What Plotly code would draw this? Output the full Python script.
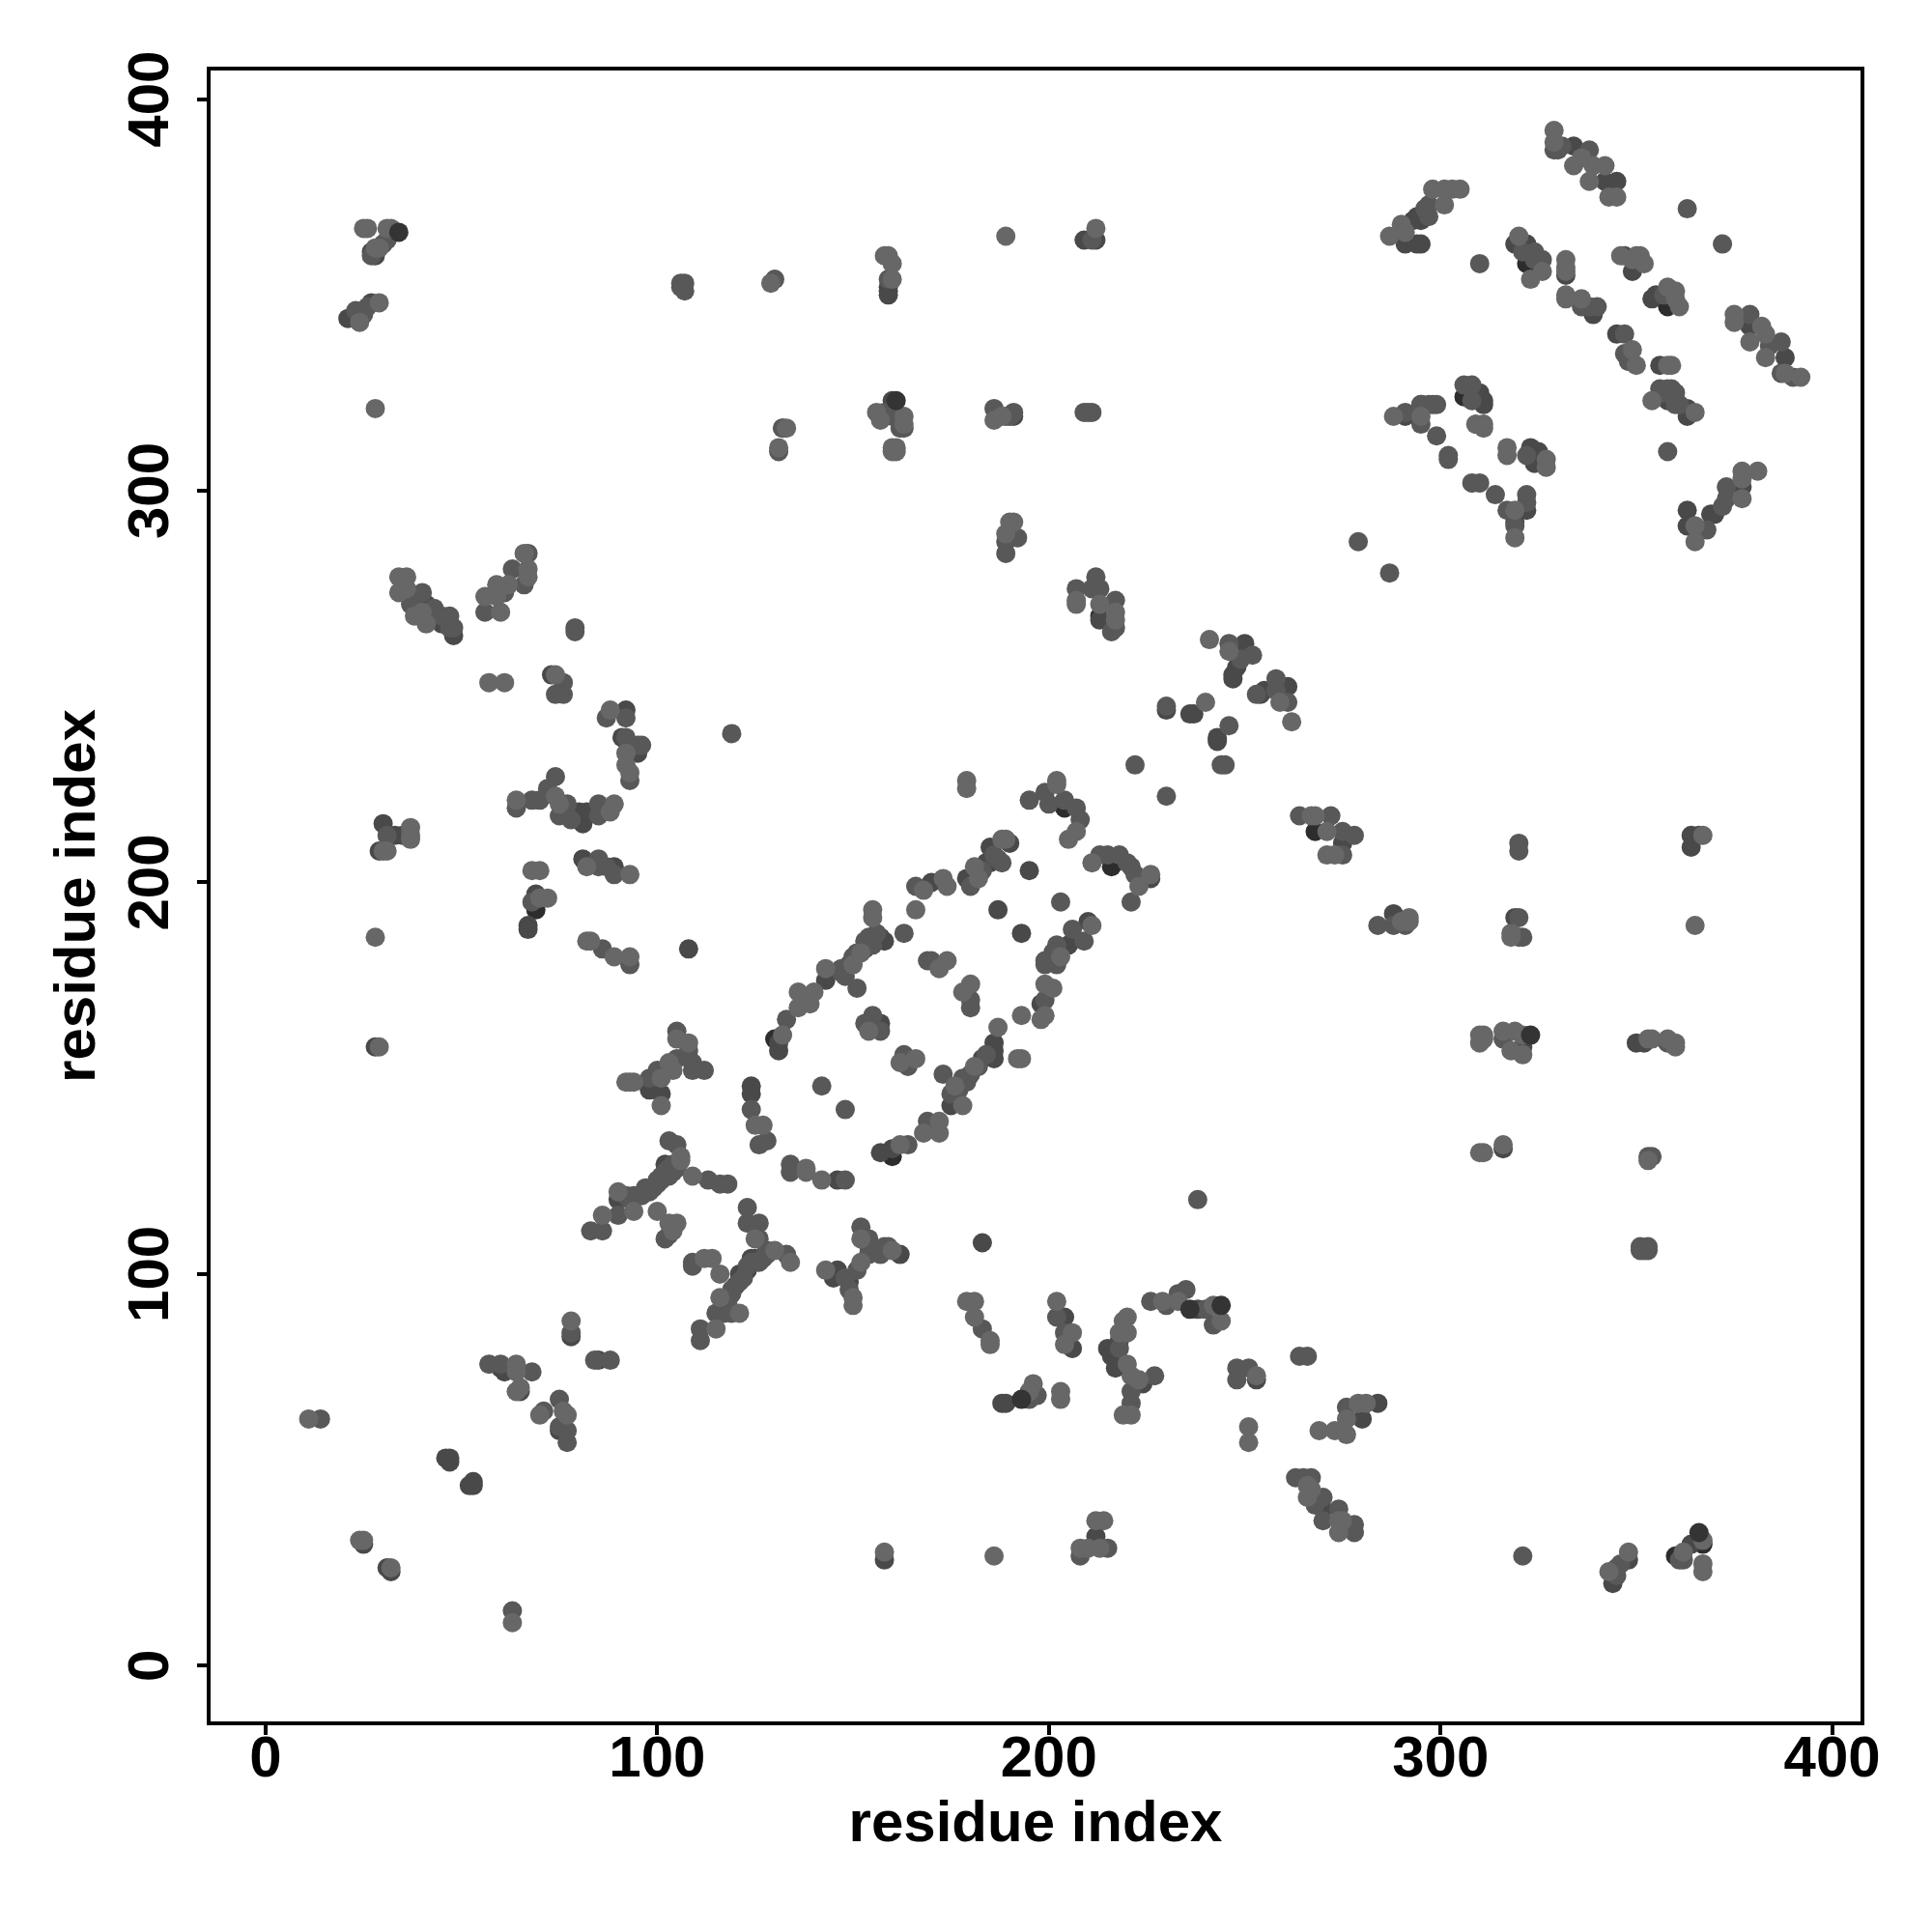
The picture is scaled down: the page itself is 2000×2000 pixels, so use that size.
import plotly.graph_objects as go

tick_values = [0, 100, 200, 300, 400]
axis_title = "residue index"

contacts_light = [
(25,367),(26,367),(31,367),(32,367),(29,362),(28,362),(24,343),(29,348),(28,321),
(67,280),(67,278),(66,284),(62,276),(59,276),(59,273),(56,273),(60,269),(34,278),(36,278),(34,274),(36,275),(41,266),(40,269),(38,268),
(129,353),(158,360),(159,360),(160,358),(160,354),(189,365),(212,367),(156,320),(157,318),(163,319),(163,317),(133,316),(131,311),(160,311),(161,311),(160,310),(161,310),(186,318),(188,319),(190,292),(191,292),(189,289),(207,271),(207,272),(213,271),(217,269),(217,267),
(287,365),(290,368),(291,366),(301,373),(298,377),(301,377),(303,377),(305,377),(329,392),(329,389),(334,383),(339,383),(338,379),(336,385),(342,383),(343,375),(345,375),(320,365),(326,356),(323,354),(332,359),(332,357),(332,356),(332,350),(332,349),(336,349),(349,336),(350,332),(358,332),(359,332),(354,323),(365,320),(351,360),(350,360),(352,358),(349,359),(346,360),(358,352),(360,351),(361,347),(360,349),(375,345),(375,343),(382,342),(379,338),(383,340),(383,334),(388,330),(392,329),(288,319),(295,319),(309,317),(311,317),(311,316),(317,311),(317,309),(327,308),(327,306),(319,295),(319,288),(365,287),(365,291),(377,298),(377,305),(377,303),(381,305),
(57,251),(61,251),(74,253),(88,244),(92,233),(92,230),(93,228),(64,221),(74,222),(75,220),(89,220),(88,218),(37,214),(37,212),(37,211),(30,208),(31,208),(68,203),(70,203),(82,204),(93,202),(72,196),(70,196),(28,186),(82,185),(83,185),(89,181),(93,181),(29,158),(105,160),(108,159),(93,149),(92,149),(94,149),(103,154),(101,150),(101,143),(104,152),(125,138),(106,130),(106,129),
(241,262),(246,259),(240,246),(259,246),(262,241),(202,226),(202,225),(207,213),(205,211),(179,226),(179,224),(188,211),(189,211),(181,204),(182,201),(168,198),(173,201),(174,199),(211,205),(226,202),(223,199),(166,193),(155,193),(155,191),(152,182),(150,179),(143,178),(136,172),(140,172),(139,169),(136,168),(132,161),(211,189),(203,181),(199,174),(201,173),(198,165),(199,166),(193,166),(187,163),(174,180),(172,178),(180,174),(178,172),(154,162),(166,155),(162,154),(192,155),(193,155),(181,153),(176,148),(178,143),(172,139),(172,136),(168,136),(162,133),(127,138),(138,126),(142,124),(138,127),
(267,217),(268,217),(271,213),(271,207),(273,207),(367,212),(292,191),(292,190),(290,190),(318,187),(318,186),(365,189),(310,161),(311,160),(311,161),(310,159),(316,162),(319,162),(321,161),(318,157),(321,156),(353,160),(354,160),(358,160),(360,159),(360,158),(310,131),(311,131),(316,133),(353,129),
(90,121),(94,116),(86,115),(100,116),(103,113),(105,113),(104,111),(109,125),(125,109),(112,104),(114,104),(116,100),(116,94),(115,86),(121,90),(78,88),(64,77),(64,75),(65,71),(64,70),(70,64),(76,65),(77,64),(11,63),(24,32),(25,32),(32,25),(63,11),
(143,101),(150,94),(150,92),(152,103),(152,109),(160,106),(134,103),(130,106),(179,93),(181,93),(181,89),(185,83),(185,82),(202,93),(206,85),(204,82),(229,93),(233,93),(242,92),(244,88),(219,88),(220,89),(218,85),(220,85),(220,77),(221,74),(223,73),(219,64),(221,64),(196,72),(195,70),(203,70),(203,68),(253,74),(251,61),(251,57),(266,46),(266,43),(267,45),
(274,37),(275,37),(274,34),(279,67),(281,67),(276,63),(273,60),(269,60),(276,59),(348,29),(343,24),(367,32),(362,29),(367,26),(367,24),(158,29),(186,28),(212,37),(214,37),(208,30),(210,30),(213,30),
]

contacts_mid = [
(31,364),(30,363),(27,360),(23,346),(24,345),(25,346),(25,345),(26,347),(106,353),(107,353),(107,351),(106,352),
(67,284),(63,280),(66,276),(56,269),(61,274),(37,271),(40,274),(43,270),(45,268),(47,268),(47,265),(48,265),
(130,354),(159,354),(158,320),(162,316),(163,316),(160,319),(132,316),(131,310),(186,321),(190,319),(191,320),(189,319),(209,320),(210,320),(211,320),(192,288),(189,287),(189,284),
(212,278),(207,275),(211,275),(213,275),(217,272),(217,265),(216,264),(211,364),
(297,370),(297,373),(296,372),(331,388),(330,387),(329,387),(338,387),(363,372),(372,363),(310,358),(321,361),(324,361),(326,359),(324,359),(336,347),(340,347),(338,347),(347,340),(347,335),(348,333),(356,326),(357,325),(358,326),(359,326),(360,325),(361,322),(360,322),(358,310),(357,350),(379,345),(387,338),(384,337),(387,330),(390,329),(291,320),(295,322),(298,322),(299,322),(297,322),(295,317),(299,314),(302,309),(302,308),(306,327),(308,327),(308,323),(322,309),(308,302),(310,302),(314,299),(322,299),(322,297),(317,295),(319,291),(365,291),(368,290),(373,298),(372,296),(373,301),(279,287),(287,279),
(79,265),(79,264),(76,251),(74,248),(76,248),(87,242),(92,242),(92,237),(96,235),(95,235),(93,226),(119,238),(74,227),(72,224),(64,219),(68,221),(70,221),(77,220),(75,217),(85,220),(85,217),(78,216),(31,212),(85,206),(85,204),(89,202),(87,204),(68,195),(86,183),(93,179),
(105,162),(108,157),(109,154),(109,152),(112,152),(105,155),(98,150),(100,152),(124,142),(126,133),(103,134),(105,133),
(246,261),(252,258),(249,257),(230,245),(246,240),(244,230),(245,230),(222,230),(230,222),(253,248),(258,252),(258,249),(261,246),(264,217),
(199,223),(200,220),(195,221),(204,221),(207,219),(208,216),(188,205),(166,199),(180,199),(173,151),(213,207),(215,207),(218,207),(221,204),(222,202),(220,205),(221,195),(203,195),(163,187),(154,186),(155,184),(149,179),(147,177),(151,173),(133,165),(206,188),(209,185),(202,184),(201,182),(199,180),(199,179),(202,179),(199,170),(169,180),(170,180),(180,170),(180,168),(155,166),(153,164),(157,162),(163,156),(164,153),(164,155),(142,148),(148,142),(180,151),(178,150),(175,146),(169,139),(164,133),(128,134),(134,128),(134,126),
(272,217),(275,213),(278,212),(275,207),(320,210),(320,208),(284,189),(288,189),(291,189),(320,191),(321,186),(320,186),(316,160),(358,159),(353,130),(354,130),
(94,120),(95,120),(98,121),(96,120),(100,123),(90,115),(83,111),(86,111),(102,109),(103,110),(113,124),(116,123),(118,123),(123,117),(123,113),(109,103),(109,102),(119,96),(118,93),(115,90),(111,86),(111,83),(119,90),(117,90),(78,85),(84,78),(88,78),(57,77),(60,77),(68,75),(75,68),(71,65),(77,60),(77,57),(14,63),(63,14),(75,61),
(148,99),(149,96),(151,101),(154,105),(152,112),(154,109),(158,107),(159,107),(157,105),(154,107),(133,105),(128,106),(126,103),(126,113),(126,109),(105,127),(103,125),(104,126),(101,124),(97,122),(92,120),(93,119),(127,104),(128,105),(238,119),(183,86),(202,89),(204,85),(226,93),(230,92),(233,95),(235,96),(240,91),(242,87),(218,81),(227,74),(221,70),(221,67),(195,68),(197,69),(248,76),(248,73),(251,76),(264,79),(266,79),(263,48),(265,48),(267,48),(268,41),
(270,43),(270,37),(274,40),(278,36),(278,34),(276,66),(351,106),(352,106),(353,106),(353,107),(351,107),(321,28),(346,26),(345,25),(345,23),(362,27),(361,27),(208,28),(215,30),(148,124),
(99,122),(101,125),(102,126),(103,127),(104,128),(100,124),(119,95),(121,98),(122,99),(123,102),(124,103),(125,103),(118,92),
(187,206),(186,207),(183,203),(150,181),(151,182),(153,185),(154,184),(156,187),(179,149),(182,153),(184,156),(177,147),(147,178),(148,176),
]

contacts_dark = [
(27,361),(28,360),(21,344),(27,348),(41,271),(45,266),(48,263),
(159,352),(159,351),(159,350),(209,364),(212,364),(160,323),(132,316),(191,319),(213,267),
(291,363),(294,363),(295,363),(294,370),(295,369),(293,369),(334,388),(342,379),(345,379),(319,363),(322,363),(332,355),(339,345),(345,340),(356,332),(358,323),(363,321),(363,319),(347,360),(349,356),(355,350),(354,349),(379,342),(388,334),(291,319),(295,322),(310,325),(311,323),(311,322),(323,311),(325,310),(324,307),(322,295),(319,292),(363,295),(363,291),(369,294),(370,294),(377,301),
(73,253),(92,244),(91,237),(95,233),(80,218),(81,215),(82,218),(30,215),(33,212),(35,212),(29,208),(81,206),(82,205),(89,204),(69,197),(67,189),(67,188),(108,183),(28,158),(98,147),(101,146),(124,148),(124,146),(102,128),
(250,261),(248,255),(247,253),(247,252),(230,244),(237,243),(236,243),(243,237),(243,236),(254,248),(255,249),(261,250),(190,210),(185,209),(185,205),(184,205),(179,201),(170,200),(195,203),(226,201),(187,193),(193,187),(157,186),(158,185),(153,183),(143,175),(131,157),(131,159),(210,190),(205,184),(198,169),(157,164),(186,159),(186,157),(186,155),(183,155),(175,143),(160,132),(157,131),(146,124),
(275,210),(364,212),(364,209),(366,212),(288,192),(319,191),(321,158),(350,159),(352,159),(316,132),
(90,119),(102,125),(124,104),(121,100),(123,101),(125,104),(120,97),(122,100),(78,84),(85,78),(61,75),(60,76),(65,70),(75,60),(46,53),(47,52),(47,53),(52,46),(53,47),(53,46),(25,31),(31,25),(32,24),
(146,101),(145,99),(149,98),(162,105),(183,108),(204,89),(206,81),(238,91),(218,83),(215,81),(216,79),(217,76),(224,72),(188,67),(189,67),(253,73),(270,40),(284,67),(280,63),(348,27),(344,21),(364,31),(158,27),(212,33),
]

contacts_darkest_under = [
(213,268),(306,324),(322,358),(358,347),(268,213),(69,193),(204,219),(216,204),(130,160),(160,130),(360,28),(367,31),
]

contacts_darkest_top = [
(34,366),(161,323),(323,161),(236,91),(244,92),(193,68),(366,34),
]

fig = go.Figure()
for points, colour in [
    (contacts_darkest_under, "#2d2d2d"),
    (contacts_dark, "#494949"),
    (contacts_mid, "#585858"),
    (contacts_light, "#676767"),
    (contacts_darkest_top, "#343434"),
]:
    fig.add_trace(go.Scatter(
        x=[p[0] for p in points],
        y=[p[1] for p in points],
        mode="markers",
        marker=dict(size=20, color=colour, line=dict(width=0)),
        cliponaxis=True,
        showlegend=False,
    ))

font = dict(family="Liberation Sans", size=60, color="black", weight="bold")
common = dict(
    tickmode="array", tickvals=tick_values, ticktext=[str(v) for v in tick_values],
    ticks="outside", ticklen=10, tickwidth=3.5, tickcolor="black",
    showgrid=False, zeroline=False, showline=True, linecolor="black", linewidth=3.5,
    mirror=True, tickfont=font,
)
fig.update_xaxes(range=[-14.06, 407.25], ticklabelstandoff=-29,
                 title=dict(text=axis_title, font=font, standoff=14), **common)
fig.update_yaxes(range=[-14.23, 407.3], tickangle=-90, ticklabelstandoff=6, ticklabelshift=9,
                 title=dict(text=axis_title, font=font, standoff=3), **common)
fig.update_layout(
    width=2000, height=2000, paper_bgcolor="white", plot_bgcolor="white",
    margin=dict(l=218, r=74, t=73, b=218, autoexpand=False),
)
fig.write_html("out.html", post_script="document.body.style.margin='0';",
               config={"displayModeBar": False})
